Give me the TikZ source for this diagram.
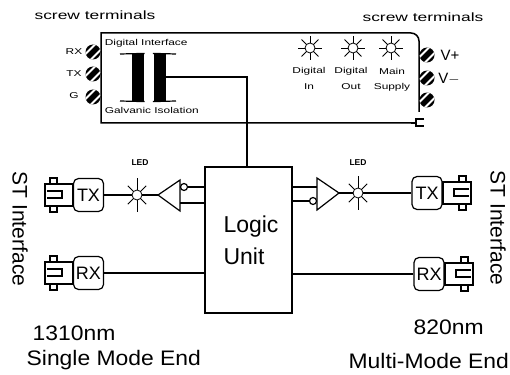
\documentclass[tikz,border=0pt]{standalone}
\usepackage{fontspec}
\setmainfont{Liberation Sans}
\tikzset{
  bigtext/.style={font=\fontsize{21}{24}\selectfont,inner sep=0pt},
  widetext/.style={bigtext,xscale=1.09,transform shape},
  smalltext/.style={font=\fontsize{8.5}{10}\selectfont,inner sep=0pt,xscale=1.4,transform shape},
  headtext/.style={font=\fontsize{12}{14}\selectfont,inner sep=0pt,xscale=1.45,transform shape},
  ledtext/.style={font=\fontsize{8.5}{10}\selectfont\bfseries,inner sep=0pt},
  fibrebox/.style={draw,line width=1.2pt,rounded corners=5pt,minimum width=30pt,minimum height=33pt,inner sep=0pt,font=\fontsize{18}{20}\selectfont},
  ledcore/.style={draw,circle,line width=0.8pt,minimum size=10pt,inner sep=0pt},
  coilbar/.style={fill=black,inner sep=0pt,minimum width=12pt,minimum height=47pt},
  screw/.pic={
    \fill (0,0) circle (7.5);
    \clip (0,0) circle (7.5);
    \draw[white,line width=1.8pt] (-9,3.5)--(3.5,-9);
    \draw[white,line width=1.8pt] (-3.5,9)--(9,-3.5);
  },
  fibreend/.pic={
    \draw[line width=1.2pt] (0,-11) rectangle (28,11);
    \draw[line width=1.2pt] (16,-11) rectangle (23,-17);
    \draw[line width=1.2pt] (16,11) rectangle (23,17);
    \draw[line width=1.2pt] (26,-4)--(11,-4)--(11,3)--(26,3);
  },
  ledrays/.pic={
    \foreach \a in {0,45,...,315} \draw[line width=0.9pt] (\a:5)--(\a:12);
  },
  ledlong/.pic={
    \foreach \a in {45,135,225,315} \draw[line width=0.9pt] (\a:5)--(\a:13);
    \draw[line width=0.9pt] (0,-17)--(0,-5);
    \draw[line width=0.9pt] (0,5)--(0,17);
  }
}
\begin{document}
\begin{tikzpicture}[x=1pt,y=-1pt,line width=1.2pt]
  \useasboundingbox (0,0) rectangle (510,374);
  \node[headtext] (termleft) at (95,15) {screw terminals};
  \node[headtext] (termright) at (423,17) {screw terminals};
  \coordinate (plug) at (416,123);
  \draw[line width=1.5pt] (plug)--(101,123)--(101,33)--(411,33) to[out=0,in=90] (419,41)--(419,112);
  \draw[line width=2.4pt] (plug)--(411,123);
  \draw[line width=1.3pt] (424,119)--(416,119)--(416,126)--(424,126);
  \pic at (93,52) {screw};
  \pic at (93,74) {screw};
  \pic at (93,97) {screw};
  \pic at (427,55) {screw};
  \pic at (427,78) {screw};
  \pic at (427,100) {screw};
  \node[smalltext] (rxpin) at (74,52) {RX};
  \node[smalltext] (txpin) at (74,74) {TX};
  \node[smalltext] (gpin) at (74,96) {G};
  \node[font=\fontsize{15}{17}\selectfont,inner sep=0pt] (vplus) at (450,55) {V+};
  \node[font=\fontsize{15}{17}\selectfont,inner sep=0pt] (vminus) at (449,79) {V$-$};
  \node[smalltext,anchor=west] (digiface) at (104,43) {Digital Interface};
  \node[smalltext,anchor=west] (galiso) at (104,110) {Galvanic Isolation};
  \node[coilbar] (barleft) at (138,77.5) {};
  \node[coilbar] (barright) at (159.5,77.5) {};
  \draw (120,54)--(barleft.north east);
  \draw (120,101)--(barleft.south east);
  \draw (barright.north west)--(176,54);
  \draw (barright.south west)--(176,101);
  \node[ledcore] (leddigin) at (310,48) {};
  \node[ledcore] (leddigout) at (353,48) {};
  \node[ledcore] (ledmain) at (391,48) {};
  \pic at (leddigin) {ledrays};
  \pic at (leddigout) {ledrays};
  \pic at (ledmain) {ledrays};
  \node[smalltext] (digin) at (309,71) {Digital};
  \node[smalltext] (digintwo) at (309,87) {In};
  \node[smalltext] (digout) at (351,71) {Digital};
  \node[smalltext] (digouttwo) at (351,87) {Out};
  \node[smalltext] (mainsup) at (392,71) {Main};
  \node[smalltext] (mainsuptwo) at (392,87) {Supply};
  \node[draw,line width=1.4pt,minimum width=87pt,minimum height=146pt,inner sep=0pt,align=left,font=\fontsize{23}{32}\selectfont] (logic) at (248.5,240) {\hspace*{5pt}Logic\\\hspace*{5pt}Unit};
  \coordinate (logtop) at (247,167);
  \draw (barright.east |- 0,77) -| (logtop);
  \node[fibrebox] (txleft) at (88.5,195) {TX};
  \node[fibrebox] (rxleft) at (88.5,273) {RX};
  \node[fibrebox] (txright) at (427,193) {TX};
  \node[fibrebox] (rxright) at (429,274) {RX};
  \pic[xscale=-1] at (73,195) {fibreend};
  \pic[xscale=-1] at (73,273) {fibreend};
  \pic at (443,193) {fibreend};
  \pic at (445,274) {fibreend};
  \node[ledcore] (ledleft) at (137,195) {};
  \node[ledcore] (ledright) at (358,193) {};
  \pic at (ledleft) {ledlong};
  \pic at (ledright) {ledlong};
  \node[ledtext] (ledlabl) at (140,163) {LED};
  \node[ledtext] (ledlabr) at (358,163) {LED};
  \coordinate (buflefttip) at (158,195);
  \coordinate (bufrighttip) at (339,193);
  \draw (buflefttip)--(180,180)--(180,211)--cycle;
  \draw (bufrighttip)--(317,178)--(317,210)--cycle;
  \node[draw,circle,minimum size=7pt,inner sep=0pt] (bubleft) at (184,187) {};
  \node[draw,circle,minimum size=7pt,inner sep=0pt] (bubright) at (313,201) {};
  \draw (txleft)--(ledleft);
  \draw (ledleft)--(buflefttip);
  \draw (bufrighttip)--(ledright);
  \draw (ledright)--(txright);
  \draw (bubleft)--(bubleft -| logic.west);
  \draw (180,203)--(logic.west |- 0,203);
  \draw (logic.east |- 0,187)--(317,187);
  \draw (logic.east |- bubright)--(bubright);
  \draw (rxleft)--(logic.west |- rxleft);
  \draw (rxright)--(logic.east |- rxright);
  \node[bigtext,rotate=-90] (stleft) at (20,229) {ST Interface};
  \node[bigtext,rotate=-90] (stright) at (498,228) {ST Interface};
  \node[widetext,anchor=west] (nmleft) at (32,333) {1310nm};
  \node[widetext,anchor=west] (modeleft) at (26,360) {Single Mode End};
  \node[widetext,anchor=west] (nmright) at (413,327) {820nm};
  \node[widetext,anchor=west] (moderight) at (348,361) {Multi-Mode End};
\end{tikzpicture}
\end{document}
